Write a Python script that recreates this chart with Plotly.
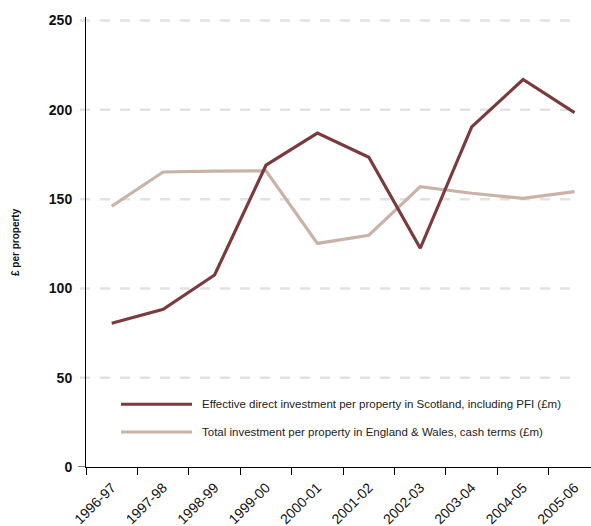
import plotly.graph_objects as go

years = ["1996-97", "1997-98", "1998-99", "1999-00", "2000-01",
         "2001-02", "2002-03", "2003-04", "2004-05", "2005-06"]
scotland = [80.5, 88.3, 107.5, 169, 187, 173.5, 122.5, 190.5, 217, 198.5]
eng_wales = [146, 165.2, 165.7, 165.8, 125.2, 129.8, 157, 153.3, 150.4, 154.2]
y_ticks = [0, 50, 100, 150, 200, 250]

name_scot = "Effective direct investment per property in Scotland, including PFI (£m)"
name_ew = "Total investment per property in England & Wales, cash terms (£m)"

dark = "#7b3a3c"
light = "#cbb2a7"

fig = go.Figure()
fig.add_trace(go.Scatter(x=years, y=eng_wales, mode="lines", name=name_ew,
                         line=dict(color=light, width=3.2), showlegend=False))
fig.add_trace(go.Scatter(x=years, y=scotland, mode="lines", name=name_scot,
                         line=dict(color=dark, width=3.2), showlegend=False))

L, T, B = 86, 17, 59
W, H = 591, 526
pw = W - L


def px_x(p):
    return (p - L) / pw


# dashed horizontal gridlines (extending slightly left of the axis)
for v in y_ticks[1:]:
    fig.add_shape(type="line", xref="paper", yref="y", x0=px_x(80), x1=px_x(578),
                  y0=v, y1=v, line=dict(color="#e2e2e2", width=2.5, dash="10px,10px"),
                  layer="below")

# tick at zero joined to the x axis
fig.add_shape(type="line", xref="paper", yref="y", x0=px_x(78), x1=0, y0=0, y1=0,
              line=dict(color="black", width=1))

# legend drawn as line samples plus labels
legend_rows = [(name_scot, dark, 35.2), (name_ew, light, 19.6)]
for label, col, yv in legend_rows:
    fig.add_shape(type="line", xref="paper", yref="y", x0=px_x(121), x1=px_x(192),
                  y0=yv, y1=yv, line=dict(color=col, width=3))
    fig.add_annotation(xref="paper", yref="y", x=px_x(200), y=yv, text=label,
                       showarrow=False, xanchor="left", yanchor="middle",
                       font=dict(family="Liberation Sans, Arial", size=11.5, color="#222"))

fig.add_annotation(xref="paper", yref="paper", x=px_x(15), y=0.5, text="<b>£ per property</b>",
                   textangle=-90, showarrow=False, xanchor="center", yanchor="middle",
                   font=dict(family="Liberation Sans, Arial", size=10, color="#111"))

fig.update_layout(
    width=W, height=H,
    margin=dict(l=L, r=0, t=T, b=B),
    paper_bgcolor="white", plot_bgcolor="white",
    font=dict(family="Liberation Sans, Arial", color="#111"),
    xaxis=dict(
        type="category", range=[-0.5, 9.32], showgrid=False, zeroline=False,
        showline=True, linecolor="black", linewidth=1, automargin=False,
        ticks="outside", tickson="boundaries", ticklen=7, tickcolor="black",
        tickangle=-45, ticklabelstandoff=6, tickfont=dict(size=14, color="#111"),
    ),
    yaxis=dict(
        range=[0, 252], tickvals=y_ticks, showgrid=False, zeroline=False,
        showline=True, linecolor="black", linewidth=1, automargin=False,
        ticks="", ticklabelstandoff=10,
        tickfont=dict(size=14, color="#111", weight="bold"),
    ),
)

fig.write_html("out.html")
